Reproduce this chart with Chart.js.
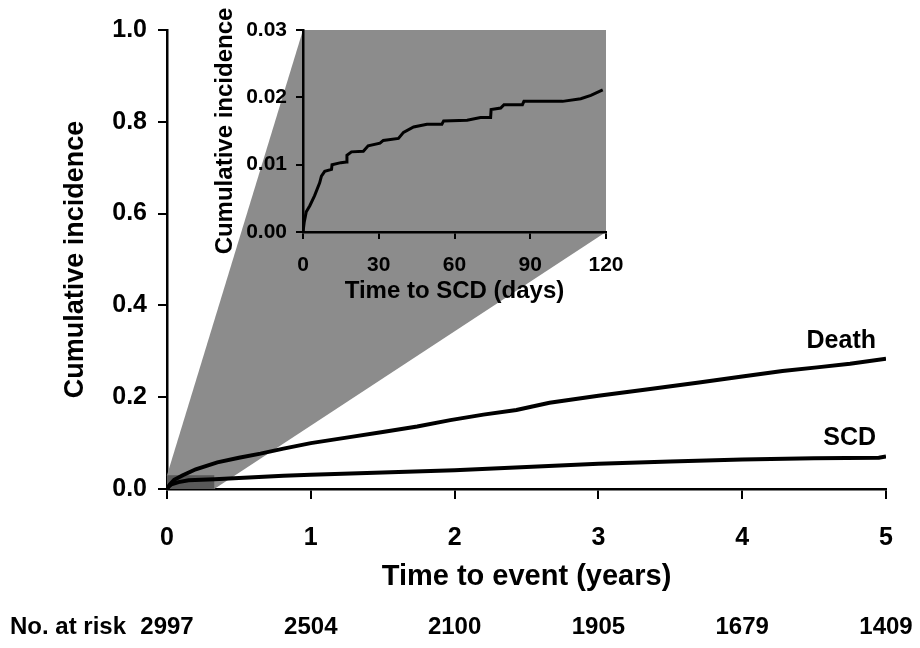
<!DOCTYPE html>
<html>
<head>
<meta charset="utf-8">
<title>Cumulative incidence</title>
<script src="https://cdn.jsdelivr.net/npm/chart.js@4.4.1/dist/chart.umd.min.js"></script>
<style>
  body { margin: 0; background: #fff; }
  #wrap { position: relative; width: 920px; height: 648px; }
  #wrap canvas { position: absolute; left: 0; top: 0; }
</style>
</head>
<body>
<div id="wrap">
  <canvas id="mycanvas" width="920" height="648"></canvas>
  <canvas id="insetcanvas" width="920" height="648"></canvas>
</div>
<script>
// main chart data (years)
var deathYears = [0, 0.02, 0.05, 0.11, 0.2, 0.35, 0.5, 0.65, 0.81, 1.0, 1.27, 1.5, 1.74, 1.97, 2.2, 2.43, 2.66, 3.0, 3.36, 3.7, 4.0, 4.28, 4.52, 4.75, 5.0];
var deathInc   = [0, 0.01, 0.02, 0.03, 0.043, 0.058, 0.068, 0.077, 0.088, 0.1, 0.113, 0.124, 0.136, 0.15, 0.162, 0.172, 0.188, 0.203, 0.218, 0.232, 0.245, 0.257, 0.265, 0.273, 0.284];
var scdYears = [0, 0.01, 0.03, 0.08, 0.15, 0.33, 0.5, 0.81, 1.0, 1.5, 2.0, 2.5, 3.0, 3.5, 4.0, 4.5, 4.95, 5.0];
var scdInc   = [0, 0.005, 0.01, 0.015, 0.019, 0.021, 0.024, 0.029, 0.031, 0.036, 0.041, 0.048, 0.055, 0.06, 0.064, 0.067, 0.068, 0.071];
var seriesNames = ["Death", "SCD"];

// inset: SCD in first 120 days
var insetDays = [0, 0.5, 1.3, 2.7, 4.6, 6.6, 7.3, 8.6, 11.3, 11.5, 15, 17.2, 17.4, 19.2, 23.9, 25.8, 30.5, 31.8, 37.8, 39.8, 43.8, 49.1, 55, 55.7, 65, 70.3, 74.3, 74.5, 78.3, 79.6, 86.9, 87.5, 102.8, 110, 114, 118.7];
var insetInc  = [0, 0.0015, 0.003, 0.0039, 0.0054, 0.0073, 0.0083, 0.009, 0.0093, 0.01, 0.0103, 0.0104, 0.0114, 0.0119, 0.012, 0.0128, 0.0132, 0.0136, 0.0139, 0.0148, 0.0156, 0.016, 0.016, 0.0165, 0.0166, 0.017, 0.017, 0.0182, 0.0184, 0.0189, 0.0189, 0.0194, 0.0194, 0.0198, 0.0203, 0.0211];
var zoomDays = 120;
var zoomInc = 0.03;

// number at risk under each year tick
var riskYears  = [0, 1, 2, 3, 4, 5];
var riskCounts = [2997, 2504, 2100, 1905, 1679, 1409];

var FONT = "'Liberation Sans', Arial, sans-serif";

function pts(xs, ys) {
	var out = [];
	for (var i in xs) {
		out.push({x: xs[i], y: ys[i]});
	}
	return out;
}

// ---------- inset chart (drawn on top canvas) ----------
var insetCtx = document.getElementById("insetcanvas");
var InsetGraph = new Chart(insetCtx, {
	type: 'line',
	data: {
		datasets: [{
			data: pts(insetDays, insetInc),
			borderColor: "#000",
			borderWidth: 3,
			pointRadius: 0,
			tension: 0,
			fill: false
		}]
	},
	options: {
		responsive: false,
		animation: false,
		layout: { padding: { left: 207, top: 30, right: 314, bottom: 338 } },
		plugins: { legend: { display: false }, tooltip: { enabled: false } },
		scales: {
			x: {
				type: 'linear', min: 0, max: 120,
				afterFit: function(s) { s.height = 78; },
				ticks: { stepSize: 30, color: "#000", padding: 14, font: { family: FONT, size: 21, weight: 'bold' } },
				grid: { drawOnChartArea: false, tickLength: 7, color: "#000", lineWidth: 2 },
				border: { color: "#000", width: 2.5 },
				title: { display: true, text: "Time to SCD (days)", color: "#000", font: { family: FONT, size: 24, weight: 'bold' } }
			},
			y: {
				min: 0, max: 0.03,
				afterFit: function(s) { s.width = 96; },
				ticks: { stepSize: 0.01, color: "#000", padding: 9, font: { family: FONT, size: 21, weight: 'bold' },
					callback: function(v) { return v.toFixed(2); } },
				grid: { drawOnChartArea: false, tickLength: 7, color: "#000", lineWidth: 2 },
				border: { color: "#000", width: 2.5 },
				title: { display: true, text: "Cumulative incidence", color: "#000", font: { family: FONT, size: 24, weight: 'bold' } }
			}
		}
	}
});

// gray zoom wedge + end labels on the main chart
var zoomPlugin = {
	id: 'zoomWedge',
	beforeDatasetsDraw: function(chart) {
		var c = chart.ctx, xs = chart.scales.x, ys = chart.scales.y;
		var ix = InsetGraph.scales.x, iy = InsetGraph.scales.y;
		var x0 = xs.getPixelForValue(0), x1 = xs.getPixelForValue(zoomDays / 365.25);
		var y0 = ys.getPixelForValue(0), y1 = ys.getPixelForValue(zoomInc);
		c.save();
		c.fillStyle = "#8c8c8c";
		c.beginPath();
		c.moveTo(x0, y1);
		c.lineTo(ix.getPixelForValue(0), iy.getPixelForValue(zoomInc));
		c.lineTo(ix.getPixelForValue(zoomDays), iy.getPixelForValue(zoomInc));
		c.lineTo(ix.getPixelForValue(zoomDays), iy.getPixelForValue(0));
		c.lineTo(x1, y0);
		c.lineTo(x0, y0);
		c.closePath();
		c.fill();
		c.fillStyle = "#595959";
		c.fillRect(x0, y1, x1 - x0, y0 - y1);
		c.restore();
	},
	afterDraw: function(chart) {
		var c = chart.ctx, xs = chart.scales.x, ys = chart.scales.y;
		c.save();
		c.fillStyle = "#000";
		c.font = "bold 25px " + FONT;
		c.textBaseline = 'middle';
		c.textAlign = 'right';
		var ends = [[deathYears, deathInc], [scdYears, scdInc]];
		for (var i in ends) {
			var n = ends[i][0].length - 1;
			c.fillText(seriesNames[i], xs.getPixelForValue(ends[i][0][n]) - 10, ys.getPixelForValue(ends[i][1][n]) - 18);
		}
		// number at risk row
		c.font = "bold 24px " + FONT;
		c.textAlign = 'left';
		c.fillText("No. at risk", 10, 627);
		c.textAlign = 'center';
		for (var j in riskYears) {
			c.fillText(String(riskCounts[j]), xs.getPixelForValue(riskYears[j]), 627);
		}
		c.restore();
	}
};

// ---------- main chart ----------
var ctx = document.getElementById("mycanvas");
var LineGraph = new Chart(ctx, {
	type: 'line',
	data: {
		datasets: [
			{
				label: seriesNames[0],
				data: pts(deathYears, deathInc),
				borderColor: "#000",
				borderWidth: 4,
				pointRadius: 0,
				fill: false
			},
			{
				label: seriesNames[1],
				data: pts(scdYears, scdInc),
				borderColor: "#000",
				borderWidth: 4,
				pointRadius: 0,
				fill: false
			}
		]
	},
	options: {
		responsive: false,
		animation: false,
		layout: { padding: { left: 55, top: 30, right: 34, bottom: 50 } },
		plugins: { legend: { display: false }, tooltip: { enabled: false } },
		scales: {
			x: {
				type: 'linear', min: 0, max: 5,
				afterFit: function(s) { s.height = 109; },
				ticks: { stepSize: 1, color: "#000", padding: 24, font: { family: FONT, size: 25, weight: 'bold' } },
				grid: { drawOnChartArea: false, tickLength: 10, color: "#000", lineWidth: 2 },
				border: { color: "#000", width: 2.5 },
				title: { display: true, text: "Time to event (years)", color: "#000", font: { family: FONT, size: 29, weight: 'bold' } }
			},
			y: {
				min: 0, max: 1,
				afterFit: function(s) { s.width = 112; },
				ticks: { stepSize: 0.2, color: "#000", padding: 11, font: { family: FONT, size: 25, weight: 'bold' },
					callback: function(v) { return v.toFixed(1); } },
				grid: { drawOnChartArea: false, tickLength: 9, color: "#000", lineWidth: 2 },
				border: { color: "#000", width: 2.5 },
				title: { display: true, text: "Cumulative incidence", color: "#000", font: { family: FONT, size: 27, weight: 'bold' } }
			}
		}
	},
	plugins: [zoomPlugin]
});
</script>
</body>
</html>
